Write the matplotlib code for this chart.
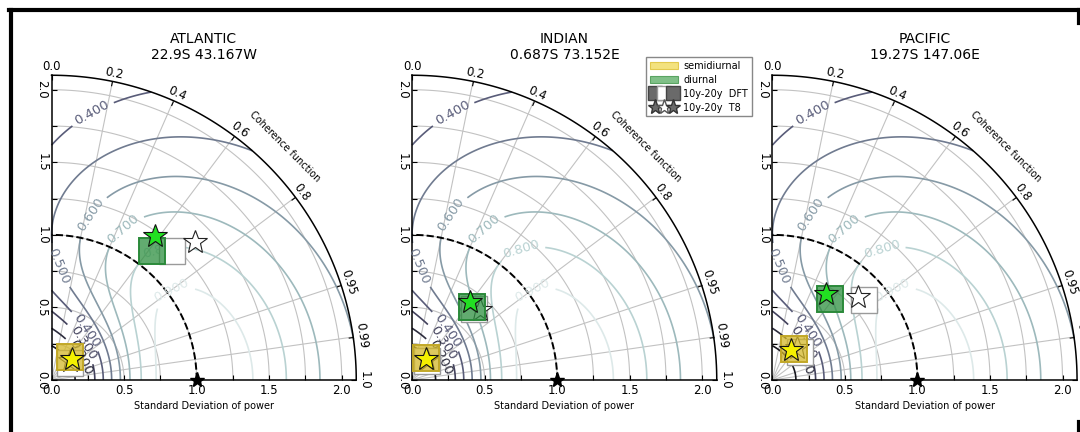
import numpy as np
import matplotlib
matplotlib.use("Agg")
import matplotlib.pyplot as plt
from matplotlib.projections import PolarAxes
from matplotlib.lines import Line2D
from matplotlib.patches import Patch
from matplotlib.legend_handler import HandlerTuple
import mpl_toolkits.axisartist.floating_axes as fa
import mpl_toolkits.axisartist.grid_finder as gf

plt.rcParams['font.family'] = ['DejaVu Sans']

# ---------------------------------------------------------------- data
basins = ["ATLANTIC", "INDIAN", "PACIFIC"]
stations = ["22.9S 43.167W", "0.687S 73.152E", "19.27S 147.06E"]

ref_std = 1.0
std_max = 2.1
coh_ticks = [0.0, 0.2, 0.4, 0.6, 0.8, 0.95, 0.99, 1.0]
std_ticks = [0.0, 0.25, 0.5, 0.75, 1.0, 1.25, 1.5, 1.75, 2.0]
std_labels = {0.0: "0.0", 0.5: "0.5", 1.0: "1.0", 1.5: "1.5", 2.0: "2.0"}
skill_levels = [0.1, 0.2, 0.3, 0.4, 0.5, 0.6, 0.7, 0.8, 0.9]

# semidiurnal band (Atlantic, Indian, Pacific): normalised std and coherence
semi_dft10_std = [0.203, 0.177, 0.258]
semi_dft10_coh = [0.616, 0.531, 0.581]
semi_dft20_std = [0.177, 0.164, 0.269]
semi_dft20_coh = [0.735, 0.610, 0.707]
semi_t810_std = [0.201, 0.174, 0.243]
semi_t810_coh = [0.697, 0.558, 0.535]
semi_t820_std = [0.184, 0.172, 0.278]
semi_t820_coh = [0.707, 0.581, 0.611]

# diurnal band
diur_dft10_std = [1.126, 0.650, 0.688]
diur_dft10_coh = [0.613, 0.640, 0.581]
diur_dft20_std = [1.217, 0.652, 0.836]
diur_dft20_coh = [0.682, 0.660, 0.753]
diur_t810_std = [1.218, 0.672, 0.700]
diur_t810_coh = [0.583, 0.595, 0.531]
diur_t820_std = [1.372, 0.672, 0.819]
diur_t820_coh = [0.722, 0.700, 0.718]

# ---------------------------------------------------------------- layout
W, H = 1080, 432
fig = plt.figure(figsize=(W / 100, H / 100), dpi=100)
scale = 148.0                      # pixels per unit of std
panel_left = [48.5, 409.0, 769.3]  # pixel x of each diagram origin
origin_y = 383.0                   # pixel y (from top) of the origins
side = std_max * scale

tr = PolarAxes.PolarTransform(apply_theta_transforms=False)
tlocs = np.arccos(coh_ticks)
gl1 = gf.FixedLocator(tlocs)
tf1 = gf.DictFormatter(dict(zip(tlocs, [str(c) for c in coh_ticks])))
gl2 = gf.FixedLocator(std_ticks)
tf2 = gf.DictFormatter(std_labels)

# Taylor skill score field over the quarter disc
theta = np.linspace(0, np.pi / 2, 300)
rad = np.linspace(1e-3, std_max, 300)
T, R = np.meshgrid(theta, rad)
skill = 2 * (1 + np.cos(T)) / (R / ref_std + ref_std / R) ** 2

# where the contour labels sit (cartesian x, y)
label_xy = [(0.27, 1.86), (0.08, 0.80), (0.25, 1.15), (0.48, 1.06),
            (0.75, 0.92), (0.80, 0.68), (0.27, 0.36), (0.22, 0.26),
            (0.19, 0.15)]
label_pos = [(np.arctan2(y, x), np.hypot(x, y)) for x, y in label_xy]

yellow_face = (0.83, 0.72, 0.16, 0.75)
green_face = (0.18, 0.56, 0.25, 0.75)


def pol(std, coh):
    return np.arccos(np.asarray(coh)), np.asarray(std)


for i in range(3):
    gh = fa.GridHelperCurveLinear(tr, extremes=(0, np.pi / 2, 0, std_max),
                                  grid_locator1=gl1, tick_formatter1=tf1,
                                  grid_locator2=gl2, tick_formatter2=tf2)
    rect = [panel_left[i] / W, (H - origin_y) / H, side / W, side / H]
    ax = fig.add_axes(rect, axes_class=fa.FloatingAxes, grid_helper=gh)

    ax.axis["top"].set_axis_direction("bottom")
    ax.axis["top"].toggle(ticklabels=True, label=True)
    ax.axis["top"].major_ticklabels.set_axis_direction("top")
    ax.axis["top"].label.set_axis_direction("top")
    ax.axis["top"].label.set_text("Coherence function")
    ax.axis["left"].set_axis_direction("bottom")
    ax.axis["left"].label.set_text("Standard Deviation of power")
    ax.axis["right"].set_axis_direction("top")
    ax.axis["right"].toggle(ticklabels=False)
    ax.axis["bottom"].set_visible(False)
    for name in ("top", "left", "right"):
        ax.axis[name].major_ticklabels.set_fontsize(8.5)
        ax.axis[name].label.set_fontsize(7)
        ax.axis[name].line.set_linewidth(1.1)
    ax.grid(True, color="#c2c2c2", linewidth=0.8, zorder=1)

    # std labels along the vertical axis, written top-to-bottom
    for v, s in std_labels.items():
        ax.text(-0.065, v, s, rotation=270, ha="center", va="center",
                fontsize=8.5, rotation_mode="anchor")

    aux = ax.get_aux_axes(tr)

    cs = aux.contour(T, R, skill, levels=skill_levels, cmap="bone",
                     vmin=0, vmax=1, linewidths=1.2, zorder=2)
    aux.clabel(cs, fmt="%.3f", fontsize=9.5, inline=True, manual=label_pos)

    t = np.linspace(0, np.pi / 2, 200)
    aux.plot(t, np.full_like(t, ref_std), "k--", lw=1.4, zorder=3)

    # 20y estimates (white)
    aux.plot(*pol([semi_dft20_std[i], diur_dft20_std[i]],
                  [semi_dft20_coh[i], diur_dft20_coh[i]]),
             ls="", marker="s", ms=19, mfc="white", mec="#9a9a9a", mew=1.0,
             zorder=4)
    aux.plot(*pol([semi_t820_std[i], diur_t820_std[i]],
                  [semi_t820_coh[i], diur_t820_coh[i]]),
             ls="", marker="*", ms=18, mfc="white", mec="#222222", mew=0.8,
             zorder=5)
    # 10y estimates (coloured)
    aux.plot(*pol([semi_dft10_std[i]], [semi_dft10_coh[i]]), ls="", marker="s",
             ms=19, mfc=yellow_face, mec="#c2a828", mew=1.4, zorder=6)
    aux.plot(*pol([diur_dft10_std[i]], [diur_dft10_coh[i]]), ls="", marker="s",
             ms=19, mfc=green_face, mec="#2b8a3a", mew=1.4, zorder=6)
    aux.plot(*pol([semi_t810_std[i]], [semi_t810_coh[i]]), ls="", marker="*",
             ms=18, mfc="#f4f000", mec="#111111", mew=0.8, zorder=7)
    aux.plot(*pol([diur_t810_std[i]], [diur_t810_coh[i]]), ls="", marker="*",
             ms=18, mfc="#22e022", mec="#111111", mew=0.8, zorder=7)

    aux.plot([0], [ref_std], "k*", ms=11, zorder=8, clip_on=False)

    cx = (panel_left[i] + side / 2) / W
    fig.text(cx, 1 - 62 / H, f"{basins[i]}\n{stations[i]}", ha="center",
             va="bottom", fontsize=10, linespacing=1.15)

# ---------------------------------------------------------------- legend
h_semi = Patch(facecolor="#f3e27e", edgecolor="#e2c94e", lw=0.8)
h_diur = Patch(facecolor="#80c088", edgecolor="#5aa462", lw=0.8)
dft_dark = Line2D([], [], ls="", marker="s", ms=10, mfc="#6a6a6a", mec="#444444")
dft_white = Line2D([], [], ls="", marker="s", ms=10, mfc="white", mec="#999999")
t8_dark = Line2D([], [], ls="", marker="*", ms=11, mfc="#6a6a6a", mec="#333333")
t8_white = Line2D([], [], ls="", marker="*", ms=11, mfc="white", mec="#555555")
fig.legend([h_semi, h_diur, (dft_dark, dft_white, dft_dark),
            (t8_dark, t8_white, t8_dark)],
           ["semidiurnal", "diurnal", "10y-20y  DFT", "10y-20y  T8"],
           handler_map={tuple: HandlerTuple(ndivide=None, pad=0)},
           loc="upper right", bbox_to_anchor=(752 / W, 1 - 57 / H),
           fontsize=7, frameon=True, fancybox=False, edgecolor="#888888",
           framealpha=1, borderaxespad=0, handlelength=2.8, handleheight=0.7,
           labelspacing=0.4, borderpad=0.4, handletextpad=0.6, numpoints=1)

# ---------------------------------------------------------------- frame
frame_kw = dict(color="black", lw=3, transform=fig.transFigure)
fig.add_artist(Line2D([9 / W, 1], [1 - 10 / H] * 2, **frame_kw))
fig.add_artist(Line2D([11 / W] * 2, [0, 1 - 10 / H], **frame_kw))
fig.add_artist(Line2D([1078.5 / W] * 2, [1 - 10 / H, 1 - 23 / H], **frame_kw))
fig.add_artist(Line2D([1078.5 / W] * 2, [0, 10 / H], **frame_kw))

fig.savefig("out.png", dpi=100)
